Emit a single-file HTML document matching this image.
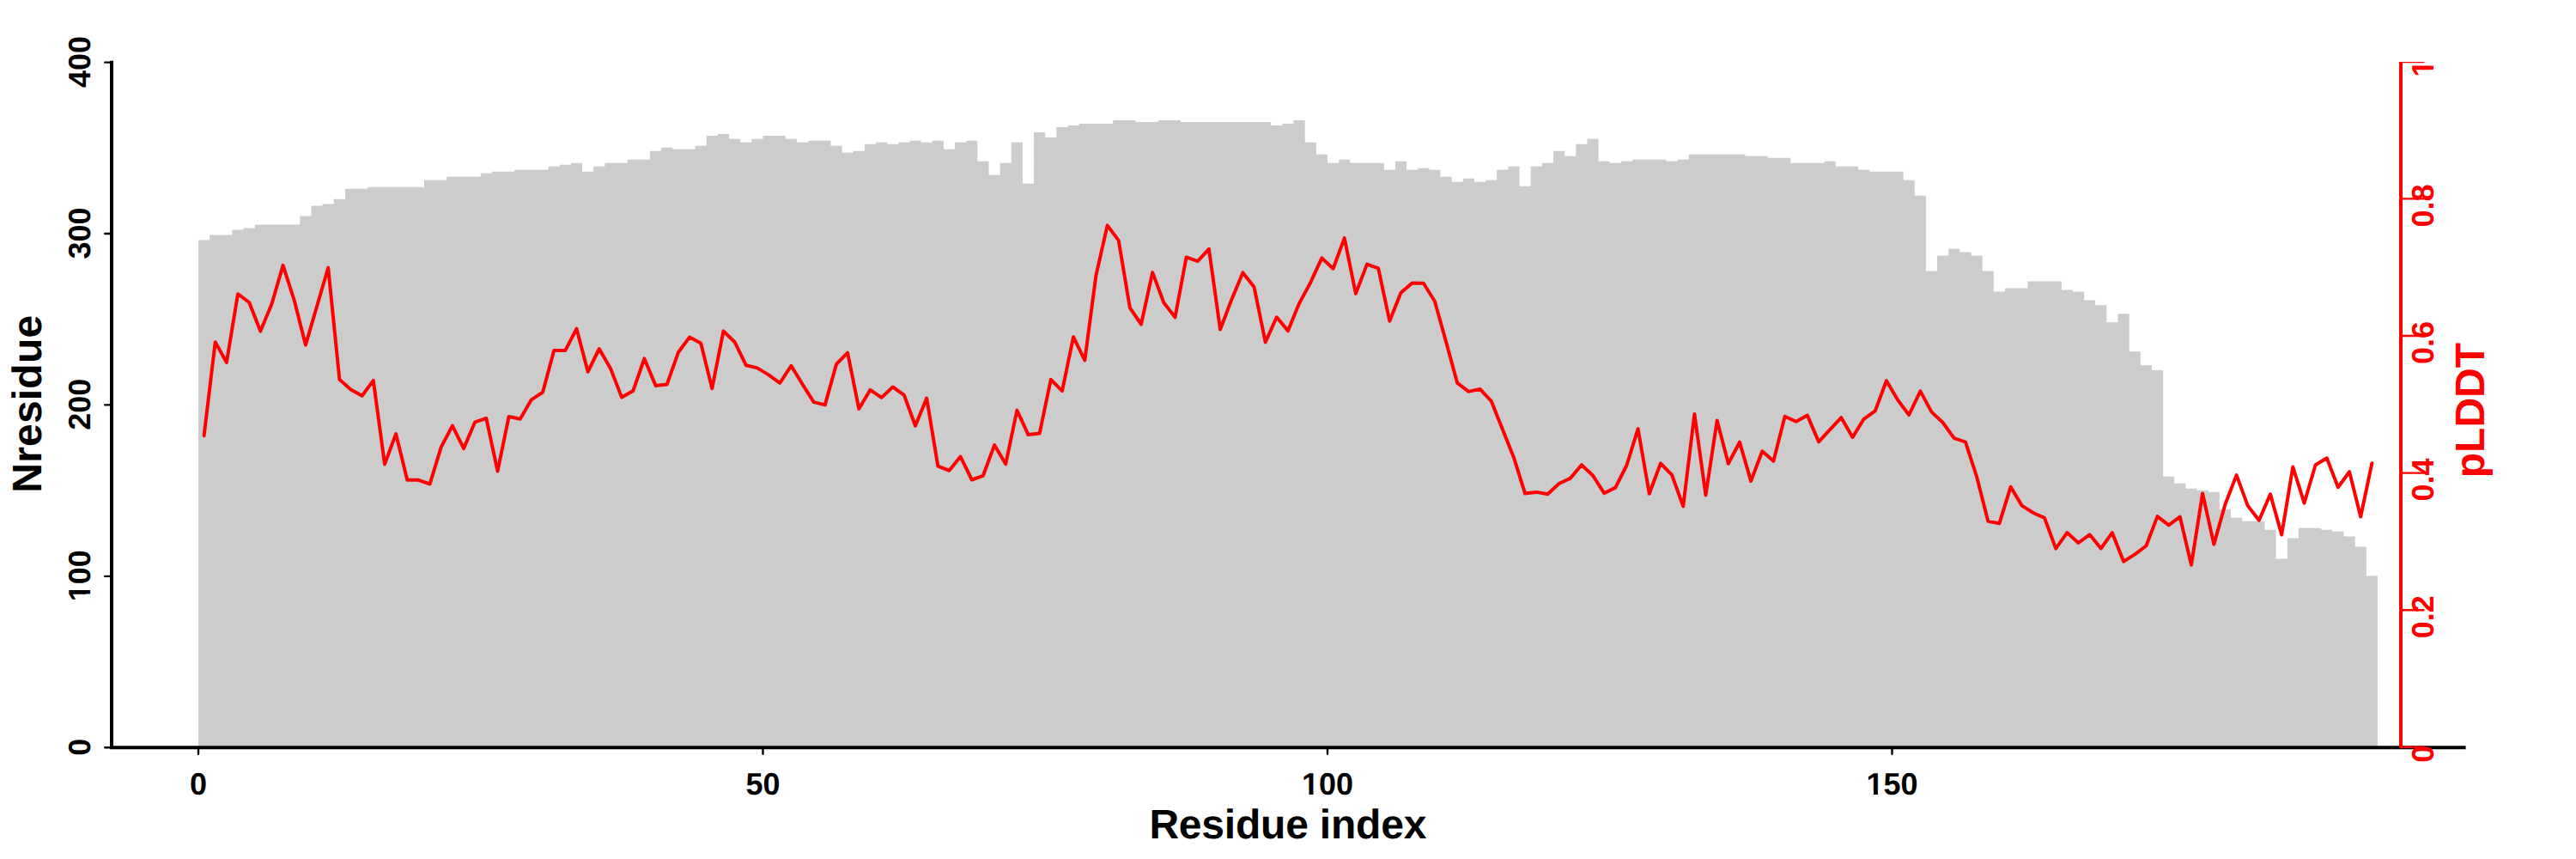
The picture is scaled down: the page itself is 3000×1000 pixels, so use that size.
<!DOCTYPE html>
<html lang="en"><head><meta charset="utf-8"><title>Nresidue and pLDDT per residue index</title>
<style>html,body{margin:0;padding:0;background:#fff}body{width:3000px;height:1000px;overflow:hidden}svg{display:block}text{font-family:"Liberation Sans",sans-serif;font-weight:bold;text-rendering:geometricPrecision}</style></head><body>
<svg width="3000" height="1000" viewBox="0 0 3000 1000">
<rect width="3000" height="1000" fill="#fff"/>
<path d="M231 870.3L231 279.5L244.2 279.5L244.2 273.6L257.3 273.6L270.4 273.6L270.4 267.6L283.6 267.6L283.6 265.6L296.8 265.6L296.8 261.6L309.9 261.6L323.1 261.6L336.2 261.6L349.4 261.6L349.4 251.6L362.5 251.6L362.5 239.6L375.6 239.6L375.6 237.6L388.8 237.6L388.8 231.7L402 231.7L402 219.7L415.1 219.7L428.2 219.7L428.2 217.7L441.4 217.7L454.6 217.7L467.7 217.7L480.9 217.7L494 217.7L494 209.7L507.2 209.7L520.3 209.7L520.3 205.7L533.5 205.7L546.6 205.7L559.8 205.7L559.8 201.7L572.9 201.7L572.9 199.7L586 199.7L599.2 199.7L599.2 197.8L612.4 197.8L625.5 197.8L638.7 197.8L638.7 193.8L651.8 193.8L651.8 191.8L665 191.8L665 189.8L678.1 189.8L678.1 199.7L691.2 199.7L691.2 193.8L704.4 193.8L704.4 189.8L717.5 189.8L730.7 189.8L730.7 185.8L743.9 185.8L757 185.8L757 175.8L770.1 175.8L770.1 171.8L783.3 171.8L783.3 173.8L796.5 173.8L809.6 173.8L809.6 169.8L822.8 169.8L822.8 157.9L835.9 157.9L835.9 155.9L849.1 155.9L849.1 161.8L862.2 161.8L862.2 165.8L875.4 165.8L875.4 161.8L888.5 161.8L888.5 157.9L901.6 157.9L914.8 157.9L914.8 161.8L928 161.8L928 165.8L941.1 165.8L941.1 163.8L954.2 163.8L967.4 163.8L967.4 169.8L980.6 169.8L980.6 177.8L993.7 177.8L993.7 175.8L1006.9 175.8L1006.9 167.8L1020 167.8L1020 165.8L1033.2 165.8L1033.2 167.8L1046.3 167.8L1046.3 165.8L1059.5 165.8L1059.5 163.8L1072.6 163.8L1072.6 165.8L1085.8 165.8L1085.8 163.8L1098.9 163.8L1098.9 173.8L1112.1 173.8L1112.1 165.8L1125.2 165.8L1125.2 163.8L1138.3 163.8L1138.3 187.8L1151.5 187.8L1151.5 203.7L1164.7 203.7L1164.7 189.8L1177.8 189.8L1177.8 165.8L1191 165.8L1191 213.7L1204.1 213.7L1204.1 153.9L1217.2 153.9L1217.2 159.9L1230.4 159.9L1230.4 147.9L1243.6 147.9L1243.6 145.9L1256.7 145.9L1256.7 143.9L1269.9 143.9L1283 143.9L1296.2 143.9L1296.2 139.9L1309.3 139.9L1322.5 139.9L1322.5 141.9L1335.6 141.9L1348.8 141.9L1348.8 139.9L1361.9 139.9L1375 139.9L1375 141.9L1388.2 141.9L1401.4 141.9L1414.5 141.9L1427.7 141.9L1440.8 141.9L1454 141.9L1467.1 141.9L1480.2 141.9L1480.2 145.9L1493.4 145.9L1493.4 143.9L1506.5 143.9L1506.5 139.9L1519.7 139.9L1519.7 165.8L1532.9 165.8L1532.9 179.8L1546 179.8L1546 189.8L1559.2 189.8L1559.2 185.8L1572.3 185.8L1572.3 189.8L1585.5 189.8L1598.6 189.8L1611.8 189.8L1611.8 197.8L1624.9 197.8L1624.9 187.8L1638 187.8L1638 197.8L1651.2 197.8L1651.2 195.8L1664.4 195.8L1664.4 197.8L1677.5 197.8L1677.5 205.7L1690.7 205.7L1690.7 211.7L1703.8 211.7L1703.8 207.7L1717 207.7L1717 211.7L1730.1 211.7L1730.1 209.7L1743.2 209.7L1743.2 197.8L1756.4 197.8L1756.4 193.8L1769.5 193.8L1769.5 216.7L1782.7 216.7L1782.7 193.8L1795.9 193.8L1795.9 189.8L1809 189.8L1809 175.8L1822.2 175.8L1822.2 181.8L1835.3 181.8L1835.3 167.8L1848.5 167.8L1848.5 161.8L1861.6 161.8L1861.6 187.8L1874.8 187.8L1874.8 189.8L1887.9 189.8L1887.9 187.8L1901 187.8L1901 185.8L1914.2 185.8L1927.4 185.8L1940.5 185.8L1940.5 187.8L1953.7 187.8L1953.7 185.8L1966.8 185.8L1966.8 179.8L1980 179.8L1993.1 179.8L2006.2 179.8L2019.4 179.8L2032.5 179.8L2032.5 181.8L2045.7 181.8L2058.9 181.8L2058.9 183.8L2072 183.8L2085.2 183.8L2085.2 189.8L2098.3 189.8L2111.4 189.8L2124.6 189.8L2124.6 187.8L2137.8 187.8L2137.8 193.8L2150.9 193.8L2164.1 193.8L2164.1 197.8L2177.2 197.8L2177.2 199.7L2190.4 199.7L2203.5 199.7L2216.7 199.7L2216.7 209.7L2229.8 209.7L2229.8 227.7L2242.9 227.7L2242.9 315.4L2256.1 315.4L2256.1 297.5L2269.2 297.5L2269.2 289.5L2282.4 289.5L2282.4 293.5L2295.6 293.5L2295.6 297.5L2308.7 297.5L2308.7 315.4L2321.8 315.4L2321.8 339.4L2335 339.4L2335 335.4L2348.2 335.4L2361.3 335.4L2361.3 327.4L2374.5 327.4L2387.6 327.4L2400.8 327.4L2400.8 337.4L2413.9 337.4L2413.9 339.4L2427.1 339.4L2427.1 349.4L2440.2 349.4L2440.2 355.3L2453.3 355.3L2453.3 375.3L2466.5 375.3L2466.5 365.3L2479.7 365.3L2479.7 409.2L2492.8 409.2L2492.8 425.2L2506 425.2L2506 431.1L2519.1 431.1L2519.1 554.8L2532.2 554.8L2532.2 562.8L2545.4 562.8L2545.4 568.8L2558.6 568.8L2558.6 570.8L2571.7 570.8L2571.7 572.8L2584.8 572.8L2584.8 592.7L2598 592.7L2598 602.7L2611.2 602.7L2611.2 606.7L2624.3 606.7L2637.5 606.7L2637.5 616.7L2650.6 616.7L2650.6 650.6L2663.8 650.6L2663.8 626.6L2676.9 626.6L2676.9 614.7L2690.1 614.7L2703.2 614.7L2703.2 616.7L2716.3 616.7L2716.3 618.7L2729.5 618.7L2729.5 624.6L2742.7 624.6L2742.7 636.6L2755.8 636.6L2755.8 670.5L2769 670.5L2769 870.3Z" fill="#ccc"/>
<path d="M237.6 507.2 L250.7 398.3 L263.9 421.9 L277 342.2 L290.2 352 L303.3 385.6 L316.5 353.7 L329.6 308.9 L342.8 350 L355.9 401.6 L369.1 356.5 L382.2 311.7 L395.4 441.7 L408.5 453.4 L421.7 460.7 L434.8 442.9 L448 540.4 L461.1 505.1 L474.3 558.8 L487.4 558.8 L500.6 563.5 L513.7 520.6 L526.9 495.6 L540 522.1 L553.2 491.3 L566.3 487 L579.5 548.5 L592.6 485 L605.8 487.8 L618.9 465.3 L632.1 456.6 L645.2 408.1 L658.4 407.9 L671.5 382.7 L684.7 432.8 L697.8 406 L711 428.9 L724.1 462.6 L737.3 455 L750.4 417.4 L763.6 449.1 L776.7 447.6 L789.9 410.3 L803 392.6 L816.2 399.5 L829.3 452.2 L842.5 385.4 L855.6 398.2 L868.8 425.2 L881.9 428.4 L895.1 436.4 L908.2 445.9 L921.4 425.8 L934.5 447.3 L947.7 468.1 L960.8 471.4 L974 424 L987.1 410.7 L1000.3 476 L1013.4 453.9 L1026.6 462.9 L1039.7 450.5 L1052.9 459.9 L1066 495.7 L1079.2 463.5 L1092.3 542.6 L1105.5 547.8 L1118.6 531.6 L1131.8 558.5 L1144.9 553.8 L1158.1 518.1 L1171.2 540.3 L1184.4 477.6 L1197.5 506.1 L1210.7 504.5 L1223.8 441.9 L1237 455.2 L1250.1 392.2 L1263.3 419.5 L1276.4 320.8 L1289.6 262.4 L1302.7 279.9 L1315.9 358.4 L1329 377.5 L1342.2 317.1 L1355.3 352.2 L1368.5 369.4 L1381.6 299.4 L1394.8 304.1 L1407.9 289.8 L1421.1 383.6 L1434.2 349 L1447.4 317.4 L1460.5 334 L1473.7 398.4 L1486.8 369.3 L1500 385.1 L1513.1 353.1 L1526.3 328.7 L1539.4 300.4 L1552.6 312.7 L1565.7 277.1 L1578.9 341.8 L1592 307.6 L1605.2 312.4 L1618.3 373.7 L1631.5 340.8 L1644.6 329.4 L1657.8 329.8 L1670.9 350.7 L1684.1 398 L1697.2 445.9 L1710.4 455.9 L1723.5 452.9 L1736.7 466.8 L1749.8 499.7 L1763 532.7 L1776.1 574.6 L1789.3 572.9 L1802.4 575.3 L1815.6 563 L1828.7 556.9 L1841.9 541.2 L1855 553.5 L1868.2 574.2 L1881.3 567.6 L1894.5 541.5 L1907.6 499.2 L1920.8 574.8 L1933.9 539.5 L1947.1 552.9 L1960.2 589.4 L1973.4 482.1 L1986.5 576.4 L1999.7 489.5 L2012.8 539.7 L2026 514.7 L2039.1 560.1 L2052.3 525.3 L2065.4 536.8 L2078.6 484.8 L2091.7 490.8 L2104.9 483.6 L2118 514.3 L2131.2 500.2 L2144.3 486.2 L2157.5 509.1 L2170.6 487.8 L2183.8 478.4 L2196.9 443.2 L2210.1 465.6 L2223.2 483 L2236.4 455.4 L2249.5 479.6 L2262.7 492 L2275.8 510.2 L2289 514.6 L2302.1 555 L2315.3 606.8 L2328.4 609.4 L2341.6 566.8 L2354.7 588.6 L2367.9 597 L2381 602.9 L2394.2 638.6 L2407.3 620.1 L2420.5 632 L2433.6 622.3 L2446.8 638.5 L2459.9 620.2 L2473.1 653.6 L2486.2 645.4 L2499.4 635.5 L2512.5 601.1 L2525.7 611.4 L2538.8 601.7 L2552 657.7 L2565.1 574.4 L2578.3 633.6 L2591.4 587.2 L2604.6 553.1 L2617.7 588.6 L2630.9 605.7 L2644 575.3 L2657.2 622.5 L2670.3 543.5 L2683.5 585.6 L2696.6 541.3 L2709.8 533.3 L2722.9 567.3 L2736.1 549.2 L2749.2 601.5 L2762.4 539.2" fill="none" stroke="#f00" stroke-width="4" stroke-linejoin="round" stroke-linecap="round"/>
<g stroke="#000" fill="none" stroke-linecap="round">
<path d="M130 72.8 V870.3 H2869.6" stroke-width="4" stroke-linejoin="miter" stroke-linecap="square"/>
<path d="M122.2 870.3 H130M122.2 670.9 H130M122.2 471.4 H130M122.2 272 H130M122.2 72.6 H130M231 870.3 V877.8M888.5 870.3 V877.8M1546 870.3 V877.8M2203.5 870.3 V877.8" stroke-width="2.4"/>
</g>
<g stroke="#f00" fill="none">
<path d="M2796 72 V870.8" stroke-width="4"/>
<path d="M2796 869.8 H2822.5M2796 710.2 H2822.5M2796 550.6 H2822.5M2796 391 H2822.5M2796 231.4 H2822.5" stroke-width="2.4" stroke-linecap="round"/>
<path d="M2796 72.6 H2823.5" stroke-width="1.2"/>
</g>
<g font-size="36" text-anchor="middle" fill="#000">
<text transform="translate(104.7 869.7) rotate(-90)">0</text>
<text transform="translate(104.7 670.3) rotate(-90)">100</text>
<text transform="translate(104.7 470.8) rotate(-90)">200</text>
<text transform="translate(104.7 271.4) rotate(-90)">300</text>
<text transform="translate(104.7 72) rotate(-90)">400</text>
<text transform="translate(231 924.7)">0</text>
<text transform="translate(888.5 924.7)">50</text>
<text transform="translate(1546 924.7)">100</text>
<text transform="translate(2203.5 924.7)">150</text>
</g>
<g font-size="36" text-anchor="middle" fill="#f00">
<text transform="translate(2834.3 877.8) rotate(-90)">0</text>
<text transform="translate(2834.3 718.2) rotate(-90)">0.2</text>
<text transform="translate(2834.3 558.6) rotate(-90)">0.4</text>
<text transform="translate(2834.3 399) rotate(-90)">0.6</text>
<text transform="translate(2834.3 239.4) rotate(-90)">0.8</text>
<text transform="translate(2834.3 79.8) rotate(-90)">1</text>
</g>
<g font-size="48" text-anchor="middle">
<text transform="translate(48.3 470.2) rotate(-90)" fill="#000" letter-spacing="0.2">Nresidue</text>
<text x="1499.8" y="975.8" fill="#000" letter-spacing="-0.2">Residue index</text>
<text transform="translate(2893.1 477.6) rotate(-90)" fill="#f00">pLDDT</text>
</g>
<g fill="#fff">
<rect x="1517.4" y="920.5" width="7.1" height="5.2"/><rect x="1529.5" y="920.5" width="6.2" height="5.2"/>
<rect x="2174.4" y="920.5" width="7.6" height="5.2"/><rect x="2187" y="920.5" width="6.6" height="5.2"/>
<rect x="100.4" y="680.4" width="5.2" height="6.6"/><rect x="100.4" y="691.4" width="5.2" height="7.2"/>
<rect x="2830" y="69.4" width="5.6" height="7.2"/><rect x="2830" y="81.1" width="5.6" height="7"/>
</g>
</svg></body></html>
